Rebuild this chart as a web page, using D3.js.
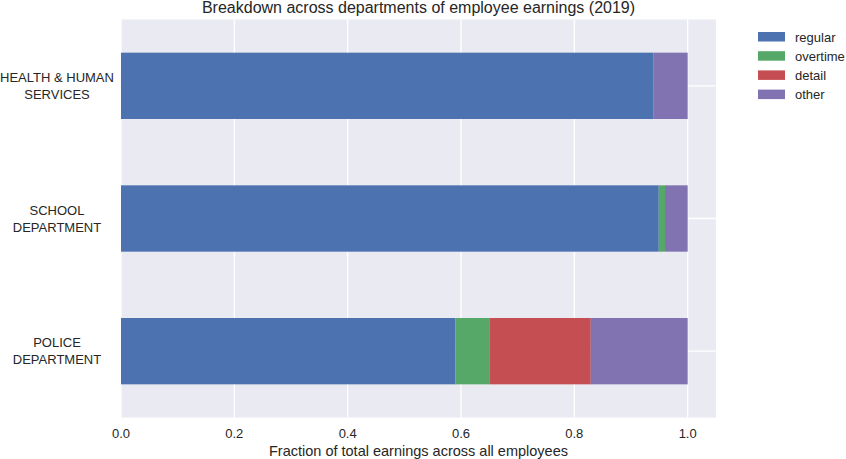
<!DOCTYPE html>
<html>
<head>
<meta charset="utf-8">
<script src="https://cdn.jsdelivr.net/npm/d3@7"></script>
<style>
  body { margin: 0; background: #fff; }
  text { font-family: "Liberation Sans", Arial, sans-serif; fill: #262626; }
</style>
</head>
<body>
<div id="chart"></div>
<script>
// departments, bottom to top as drawn
const departments = [
  ["POLICE", "DEPARTMENT"],
  ["SCHOOL", "DEPARTMENT"],
  ["HEALTH & HUMAN", "SERVICES"]
];
const components = ["regular", "overtime", "detail", "other"];
const regular = [0.590, 0.949, 0.940];
const overtime = [0.060, 0.011, 0.0];
const detail = [0.179, 0.0, 0.0];
const other = [0.171, 0.040, 0.060];
const xTicks = [0.0, 0.2, 0.4, 0.6, 0.8, 1.0];
const colors = ["#4c72b0", "#55a868", "#c44e52", "#8172b2"];

const width = 846;
const height = 459;
const margin = { top: 19.5, right: 130, bottom: 41.5, left: 121 };

const rows = departments.map((d, i) => ({
  idx: i,
  regular: regular[i],
  overtime: overtime[i],
  detail: detail[i],
  other: other[i]
}));

const svg = d3.select("#chart").append("svg")
  .attr("width", width)
  .attr("height", height);

const x = d3.scaleLinear()
  .domain([0, 1.05])
  .range([margin.left, width - margin.right]);

// continuous category axis like matplotlib: positions 0..2, limits -0.5..2.5
const y = d3.scaleLinear()
  .domain([-0.5, 2.5])
  .range([height - margin.bottom, margin.top]);

const barWidth = 0.5;

svg.append("rect")
  .attr("x", x(0))
  .attr("y", margin.top)
  .attr("width", x(1.05) - x(0))
  .attr("height", y(-0.5) - y(2.5))
  .attr("fill", "#eaeaf2");

// grid
svg.append("g")
  .selectAll("line")
  .data(xTicks)
  .join("line")
  .attr("x1", d => x(d))
  .attr("x2", d => x(d))
  .attr("y1", margin.top)
  .attr("y2", height - margin.bottom)
  .attr("stroke", "#fff")
  .attr("stroke-width", 1.3);

svg.append("g")
  .selectAll("line")
  .data(rows)
  .join("line")
  .attr("x1", x(0))
  .attr("x2", x(1.05))
  .attr("y1", d => y(d.idx))
  .attr("y2", d => y(d.idx))
  .attr("stroke", "#fff")
  .attr("stroke-width", 1.3);

const series = d3.stack().keys(components)(rows);

svg.append("g")
  .selectAll("g")
  .data(series)
  .join("g")
  .attr("fill", (d, i) => colors[i])
  .selectAll("rect")
  .data(d => d)
  .join("rect")
  .attr("x", d => x(d[0]))
  .attr("y", d => y(d.data.idx + barWidth / 2))
  .attr("width", d => x(d[1]) - x(d[0]))
  .attr("height", d => y(d.data.idx - barWidth / 2) - y(d.data.idx + barWidth / 2));

// x tick labels
svg.append("g")
  .selectAll("text")
  .data(xTicks)
  .join("text")
  .attr("x", d => x(d))
  .attr("y", height - margin.bottom + 20)
  .attr("text-anchor", "middle")
  .style("font-size", "13px")
  .text(d3.format(".1f"));

// y tick labels (two lines, centred)
const yl = svg.append("g")
  .selectAll("text")
  .data(departments)
  .join("text")
  .attr("text-anchor", "middle")
  .style("font-size", "13px");

yl.each(function(lines, i) {
  const t = d3.select(this);
  lines.forEach((line, j) => {
    t.append("tspan")
      .attr("x", 57)
      .attr("y", y(i) + (j - (lines.length - 1) / 2) * 17 + 4.5)
      .text(line);
  });
});

svg.append("text")
  .attr("x", (x(0) + x(1.05)) / 2)
  .attr("y", height - 3)
  .attr("text-anchor", "middle")
  .style("font-size", "14.5px")
  .text("Fraction of total earnings across all employees");

svg.append("text")
  .attr("x", (x(0) + x(1.05)) / 2)
  .attr("y", 13)
  .attr("text-anchor", "middle")
  .style("font-size", "16px")
  .text("Breakdown across departments of employee earnings (2019)");

// legend
const legend = svg.append("g")
  .attr("transform", "translate(758, 32)");

components.forEach((c, i) => {
  const g = legend.append("g")
    .attr("transform", `translate(0, ${i * 19.2})`);

  g.append("rect")
    .attr("width", 27)
    .attr("height", 9.5)
    .attr("fill", colors[i]);

  g.append("text")
    .attr("x", 37)
    .attr("y", 9.5)
    .style("font-size", "13px")
    .text(c);
});
</script>
</body>
</html>
